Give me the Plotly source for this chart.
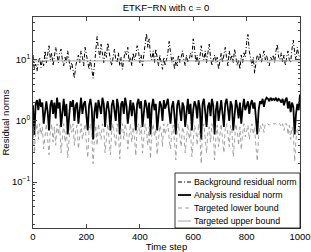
import plotly.graph_objects as go

steps = list(range(0, 1001, 5))

background = [
    12, 7, 8.5, 6.5, 9, 11, 7.5, 10, 8, 14, 9, 12, 17, 10, 13, 8, 11, 16, 12, 9,
    13, 15, 10, 8, 11, 9, 14, 10, 7, 9, 6, 5, 8, 10, 12, 9, 14, 11, 8, 16,
    12, 9, 7, 10, 6.5, 5, 8, 13, 24, 15, 11, 18, 12, 9, 14, 11, 19, 13, 10, 8,
    12, 15, 10, 9, 13, 8, 11, 7, 10, 14, 12, 16, 9, 11, 8, 13, 10, 12, 17, 14,
    9, 12, 8, 13, 18, 27, 16, 22, 12, 10, 14, 9, 15, 11, 8, 12, 9, 7, 11, 8,
    10, 13, 20, 14, 9, 11, 7, 10, 8, 12, 9, 11, 14, 10, 8, 12, 9, 10, 13, 11,
    22, 15, 9, 12, 8, 11, 17, 12, 10, 14, 9, 13, 18, 11, 8, 10, 12, 9, 11, 7,
    10, 13, 9, 12, 16, 11, 8, 14, 10, 12, 9, 15, 11, 8, 10, 7, 12, 9, 13, 11,
    19, 26, 14, 10, 8, 11, 6, 9, 12, 10, 13, 9, 11, 14, 10, 12, 9, 8, 11, 10,
    12, 9, 14, 18, 11, 10, 13, 9, 12, 8, 11, 14, 10, 9, 15, 21, 13, 10, 16, 12, 11,
]

analysis = [
    1.8, 0.6, 1.9, 2.2, 1.5, 2.3, 1.7, 2.0, 0.9, 1.6, 2.1, 1.4, 0.7, 1.8, 2.2, 1.3, 2.0, 1.1, 2.4, 1.6,
    2.0, 0.8, 1.5, 2.3, 1.2, 1.9, 0.6, 1.4, 2.1, 1.7, 2.2, 1.0, 1.8, 2.0, 0.9, 1.5, 2.4, 1.3, 1.9, 2.1,
    1.2, 0.7, 1.8, 2.3, 1.6, 0.5, 1.4, 2.0, 1.1, 2.2, 1.7, 1.3, 2.4, 1.9, 0.8, 1.6, 2.1, 1.4, 0.7, 1.8,
    2.2, 1.5, 1.0, 2.3, 1.7, 0.6, 1.9, 2.1, 1.3, 2.4, 1.8, 0.9, 1.6, 2.2, 1.2, 2.0, 1.5, 0.7, 1.9, 2.3,
    1.6, 2.1, 0.8, 1.4, 2.2, 1.8, 1.1, 2.0, 0.6, 1.7, 2.3, 1.5, 1.9, 0.7, 1.3, 2.1, 1.8, 1.0, 2.2, 1.6,
    1.9, 2.3, 1.4, 0.9, 1.7, 2.1, 1.2, 0.6, 1.8, 2.2, 1.5, 1.0, 2.0, 1.7, 0.8, 1.6, 2.3, 1.3, 1.9, 0.7,
    1.5, 2.1, 1.8, 1.1, 2.2, 1.6, 0.5, 1.9, 2.3, 1.4, 0.8, 1.7, 2.0, 1.2, 2.3, 1.8, 0.6, 1.5, 2.1, 1.0,
    1.7, 2.2, 1.3, 0.8, 1.9, 2.3, 1.6, 1.0, 2.1, 1.8, 0.7, 1.4, 2.2, 1.7, 1.1, 2.0, 0.9, 1.6, 2.3, 1.5,
    1.8, 2.1, 1.3, 1.9, 2.2, 1.6, 2.0, 1.0, 0.6, 1.5, 2.1, 1.9, 2.3, 1.7, 2.2, 2.4, 2.3, 2.1, 2.4, 2.2,
    2.3, 2.2, 2.4, 2.1, 2.3, 2.2, 2.0, 2.3, 1.8, 2.2, 2.4, 1.6, 2.1, 1.4, 2.0, 1.7, 0.6, 1.3, 1.9, 1.5, 2.7,
]

lower_bound = [
    0.8, 0.3, 0.7, 0.9, 0.5, 0.9, 0.6, 0.8, 0.35, 0.55, 0.9, 0.5, 0.28, 0.7, 0.9, 0.45, 0.8, 0.4, 0.9, 0.6,
    0.85, 0.3, 0.55, 0.9, 0.45, 0.75, 0.25, 0.5, 0.9, 0.65, 0.9, 0.4, 0.7, 0.85, 0.35, 0.55, 0.9, 0.5, 0.75, 0.9,
    0.45, 0.25, 0.7, 0.9, 0.6, 0.2, 0.5, 0.85, 0.4, 0.9, 0.65, 0.5, 0.9, 0.75, 0.3, 0.6, 0.9, 0.5, 0.28, 0.7,
    0.9, 0.55, 0.38, 0.9, 0.65, 0.24, 0.75, 0.9, 0.5, 0.9, 0.7, 0.35, 0.6, 0.9, 0.45, 0.8, 0.55, 0.27, 0.75, 0.9,
    0.6, 0.85, 0.3, 0.5, 0.9, 0.7, 0.4, 0.8, 0.24, 0.65, 0.9, 0.55, 0.75, 0.28, 0.5, 0.85, 0.7, 0.38, 0.9, 0.6,
    0.75, 0.9, 0.5, 0.35, 0.65, 0.85, 0.45, 0.23, 0.7, 0.9, 0.55, 0.38, 0.8, 0.65, 0.3, 0.6, 0.9, 0.5, 0.75, 0.26,
    0.55, 0.85, 0.7, 0.4, 0.9, 0.6, 0.2, 0.75, 0.9, 0.5, 0.3, 0.65, 0.8, 0.45, 0.9, 0.7, 0.23, 0.55, 0.85, 0.38,
    0.65, 0.9, 0.5, 0.3, 0.75, 0.9, 0.6, 0.38, 0.85, 0.7, 0.26, 0.5, 0.9, 0.65, 0.4, 0.8, 0.34, 0.6, 0.9, 0.55,
    0.7, 0.85, 0.5, 0.75, 0.9, 0.6, 0.8, 0.38, 0.22, 0.55, 0.85, 0.75, 0.9, 0.65, 0.9, 0.9, 0.9, 0.85, 0.9, 0.9,
    0.9, 0.9, 0.9, 0.85, 0.9, 0.9, 0.8, 0.9, 0.7, 0.9, 0.9, 0.6, 0.85, 0.5, 0.8, 0.65, 0.22, 0.5, 0.75, 0.6, 0.9,
]

upper_steps = [0, 1000]
upper_bound = [9.6, 9.6]

series_names = ["Background residual norm", "Analysis residual norm",
                "Targeted lower bound", "Targeted upper bound"]

x_ticks = [0, 200, 400, 600, 800, 1000]
y_ticks = [0.1, 1, 10]
y_ticktext = ["10<sup>−1</sup>", "10<sup>0</sup>", "10<sup>1</sup>"]
y_minor = [0.02, 0.03, 0.04, 0.05, 0.06, 0.07, 0.08, 0.09,
           0.2, 0.3, 0.4, 0.5, 0.6, 0.7, 0.8, 0.9,
           2, 3, 4, 5, 6, 7, 8, 9, 20, 30, 40]

FONT = "Liberation Sans, Arial, Helvetica, sans-serif"
GRAY = "#999999"
styles = [
    dict(color="black", width=1, dash="4px,2px,1px,2px"),
    dict(color="black", width=1.8),
    dict(color=GRAY, width=0.9, dash="4px,3px"),
    dict(color=GRAY, width=0.9),
]

fig = go.Figure()
fig.add_trace(go.Scatter(x=steps, y=background, mode="lines", name=series_names[0], line=styles[0]))
fig.add_trace(go.Scatter(x=steps, y=analysis, mode="lines", name=series_names[1], line=styles[1]))
fig.add_trace(go.Scatter(x=steps, y=lower_bound, mode="lines", name=series_names[2], line=styles[2]))
fig.add_trace(go.Scatter(x=upper_steps, y=upper_bound, mode="lines", name=series_names[3], line=styles[3]))

# plot area in pixels: x 33..300, y 17..228
L, R, T, B = 33, 300, 17, 228
def px_x(p):
    return (p - L) / (R - L)
def px_y(p):
    return (B - p) / (B - T)

# compact MATLAB-style legend box
shapes = [dict(type="rect", xref="paper", yref="paper",
               x0=px_x(175), x1=px_x(300), y0=px_y(228), y1=px_y(173),
               fillcolor="white", line=dict(color="black", width=0.8), layer="above")]
annotations = []
row_y = [182, 195, 208, 221]
for name, st, yy in zip(series_names, styles, row_y):
    shapes.append(dict(type="line", xref="paper", yref="paper",
                       x0=px_x(178), x1=px_x(191), y0=px_y(yy), y1=px_y(yy),
                       line=dict(color=st["color"], width=st["width"], dash=st.get("dash", "solid")),
                       layer="above"))
    annotations.append(dict(text=name, xref="paper", yref="paper", x=px_x(192), y=px_y(yy),
                            xanchor="left", yanchor="middle", showarrow=False,
                            font=dict(size=8.8, family=FONT, color="black")))

fig.update_layout(
    width=311, height=252,
    margin=dict(l=L, r=311 - R, t=T, b=252 - B, autoexpand=False),
    paper_bgcolor="white", plot_bgcolor="white",
    font=dict(family=FONT, size=9.5, color="black"),
    title=dict(text="ETKF−RN with c = 0", x=(166) / 311, xanchor="center",
               y=1 - 8 / 252, yanchor="middle", yref="container",
               font=dict(size=9.5)),
    showlegend=False,
    shapes=shapes,
    annotations=annotations,
)
fig.update_xaxes(
    range=[0, 1000], tickvals=x_ticks, ticks="inside", ticklen=4,
    showline=True, linecolor="#404040", linewidth=1, mirror="ticks",
    showgrid=False, zeroline=False, automargin=False,
    title=dict(text="Time step", standoff=1, font=dict(size=9.5)),
)
fig.update_yaxes(
    type="log", range=[-1.75, 1.7], tickvals=y_ticks, ticktext=y_ticktext,
    ticks="inside", ticklen=4, showline=True, linecolor="#404040", linewidth=1,
    mirror="ticks", showgrid=False, zeroline=False, automargin=False,
    minor=dict(tickvals=y_minor, ticks="inside", ticklen=2, tickcolor="#404040", showgrid=False),
    title=dict(text="Residual norms", standoff=2, font=dict(size=9.5)),
)

fig.write_html(
    "out.html",
    config={"displayModeBar": False, "staticPlot": True},
    post_script="document.body.style.margin='0';document.body.style.overflow='hidden';",
)
